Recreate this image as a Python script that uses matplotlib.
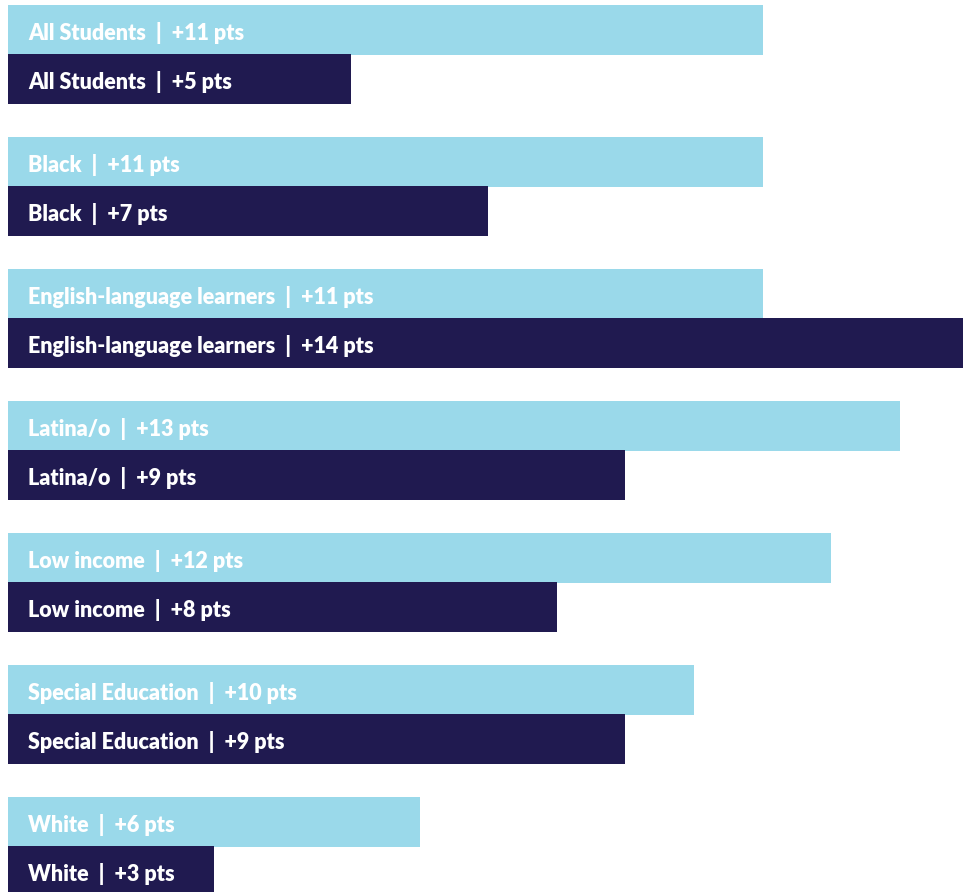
import numpy as np
import matplotlib.pyplot as plt

# ── Data ─────────────────────────────────────────────────────────────────────
groups = ['All Students', 'Black', 'English-language learners', 'Latina/o',
          'Low income', 'Special Education', 'White']
gain_light = [11, 11, 11, 13, 12, 10, 6]   # top (light) bars
gain_dark  = [5, 7, 14, 9, 8, 9, 3]        # bottom (dark) bars

LIGHT = '#9AD9EA'
DARK  = '#201A50'

# ── Plot ─────────────────────────────────────────────────────────────────────
fig = plt.figure(figsize=(9.63, 8.92), dpi=100)
ax = fig.add_axes([0, 0, 1, 1])

y = np.arange(len(groups))
off = 24.5 / 132
h = 0.38

ax.barh(y - off, gain_light, height=h, left=0, color=LIGHT)
ax.barh(y + off, gain_dark, height=h, left=0, color=DARK)

for i, g in enumerate(groups):
    for yy, v in [(y[i] - off, gain_light[i]), (y[i] + off, gain_dark[i])]:
        ax.annotate(f'{g}  |  +{v} pts', xy=(0, yy), xytext=(14.4, -2.2),
                    textcoords='offset points', va='center', ha='left',
                    color='white', fontsize=15.5, fontweight='heavy',
                    family='Lato')

ax.set_xlim(-8 / 68.6, 955 / 68.6)
ax.set_ylim((892 - 54.5) / 132, -54.5 / 132)
ax.axis('off')

plt.savefig('out.png', dpi=100)
